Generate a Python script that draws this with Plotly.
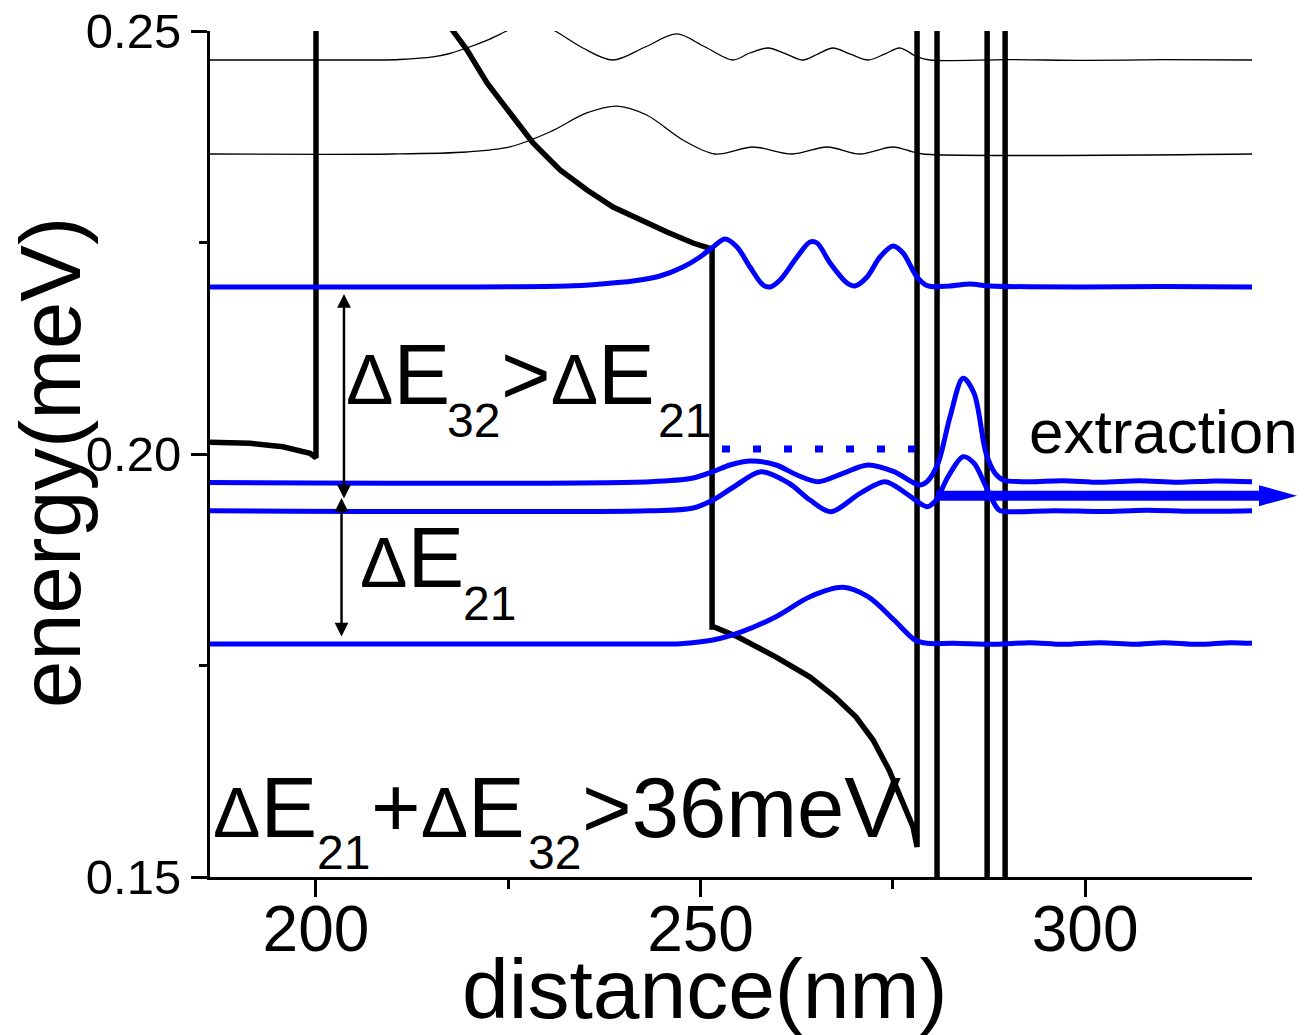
import plotly.graph_objects as go

# ---------------- axes ----------------
X_RANGE = [186.22, 321.7]          # distance (nm)
Y_RANGE = [0.15, 0.25]             # energy
X_TICKS = [200, 250, 300]
X_MINOR = [225, 275]
Y_TICKS = [0.15, 0.20, 0.25]
Y_TICK_TEXT = ["0.15", "0.20", "0.25"]
Y_MINOR = [0.175, 0.225]

# ---------------- conduction band edge ----------------
band_x = [186.22, 191.42, 195.71, 199.22, 200.0, 200.0, 216.0, 216.0, 217.82,
          219.64, 222.24, 224.84, 228.22, 231.73, 235.24, 238.62, 242.13,
          245.64, 249.02, 251.50, 251.50, 251.76, 254.88, 259.82, 264.24,
          267.49, 270.22, 272.43, 274.51, 276.20, 277.63, 278.15, 278.15,
          280.75, 280.75, 287.26, 287.26, 289.60, 289.60, 321.7]
band_e = [0.20138, 0.20126, 0.20086, 0.20008, 0.19955, 0.27, 0.27, 0.2523, 0.2500,
          0.24775, 0.24385, 0.24066, 0.23676, 0.23357, 0.23121, 0.22920, 0.22766,
          0.22624, 0.22494, 0.22423, 0.17955, 0.17955, 0.17837, 0.17600, 0.17364,
          0.17128, 0.16891, 0.16619, 0.16265, 0.15910, 0.15591, 0.15355, 0.27,
          0.27, 0.13, 0.13, 0.27, 0.27, 0.13, 0.13]

# ---------------- higher (continuum) states, thin ----------------
upper_a_x = [186.22, 208.3, 210.9, 215.2, 217.4, 219.6, 222.6, 224.8, 228.0,
             231.1, 234.7, 238.6, 242.8, 246.9, 250.6, 254.2, 256.4, 258.8,
             261.1, 263.3, 265.3, 267.2, 269.4, 271.8, 274.0, 275.9, 278.2,
             279.8, 290.0, 300.0, 310.0, 321.7]
upper_a_e = [0.24657, 0.24657, 0.24663, 0.24693, 0.24734, 0.24799, 0.24905, 0.25000,
             0.25130, 0.25000, 0.24799, 0.24657, 0.24811, 0.24965, 0.24811, 0.24657,
             0.24740, 0.24799, 0.24730, 0.24657, 0.24730, 0.24799, 0.24730, 0.24657,
             0.24730, 0.24799, 0.24693, 0.24657, 0.24662, 0.24652, 0.24661, 0.24657]

upper_b_x = [186.22, 210.0, 219.6, 225.2, 230.4, 235.2, 239.1, 243.0, 247.7,
             251.9, 256.8, 261.9, 266.5, 270.7, 275.0, 277.6, 278.9, 321.7]
upper_b_e = [0.23546, 0.23546, 0.23570, 0.23629, 0.23806, 0.24031, 0.24113, 0.24007,
             0.23712, 0.23546, 0.23629, 0.23546, 0.23629, 0.23546, 0.23629, 0.23570,
             0.23546, 0.23546]

# ---------------- laser states (blue) ----------------
level3_x = [186.22, 210.92, 232.64, 236.93, 241.22, 244.73, 247.72, 249.93, 251.63,
            253.18, 254.74, 256.43, 258.12, 259.04, 260.34, 262.55, 264.23, 265.15,
            266.84, 269.05, 270.08, 271.65, 273.34, 275.03, 276.33, 278.15, 279.58,
            282.44, 285.04, 287.64, 300.0, 310.0, 321.7]
level3_e = [0.21974, 0.21974, 0.21986, 0.22009, 0.22045, 0.22104, 0.22210, 0.22329,
            0.22447, 0.22541, 0.22447, 0.22210, 0.21998, 0.21974, 0.22057, 0.22329,
            0.22506, 0.22494, 0.22258, 0.22021, 0.21986, 0.22092, 0.22329, 0.22459,
            0.22376, 0.22092, 0.21986, 0.21986, 0.22009, 0.21986, 0.21974, 0.21980,
            0.21974]

level2a_x = [186.22, 243.43, 248.89, 251.62, 253.83, 256.56, 259.82, 262.55, 265.27,
             268.52, 271.77, 275.15, 278.41, 279.45, 280.88, 282.44, 284.13, 285.56,
             287.12, 288.29, 289.33, 292.58, 297.0, 302.0, 307.0, 312.0, 317.0, 321.7]
level2a_e = [0.19663, 0.19673, 0.19713, 0.19791, 0.19870, 0.19917, 0.19870, 0.19752,
             0.19673, 0.19772, 0.19870, 0.19791, 0.19634, 0.19673, 0.19890, 0.20441,
             0.20895, 0.20718, 0.20008, 0.19772, 0.19693, 0.19673, 0.19685, 0.19665,
             0.19683, 0.19665, 0.19682, 0.19673]

level2b_x = [186.22, 243.43, 248.89, 251.62, 254.35, 257.86, 261.50, 264.23, 266.96,
             270.73, 273.99, 276.72, 279.45, 280.62, 282.18, 284.13, 285.56, 287.12,
             288.81, 290.37, 296.0, 302.0, 308.0, 314.0, 321.7]
level2b_e = [0.19330, 0.19330, 0.19358, 0.19456, 0.19613, 0.19791, 0.19654, 0.19456,
             0.19318, 0.19535, 0.19673, 0.19535, 0.19377, 0.19456, 0.19731, 0.19968,
             0.19890, 0.19613, 0.19338, 0.19318, 0.19330, 0.19320, 0.19335, 0.19322,
             0.19330]

level1_x = [186.22, 243.43, 247.33, 251.62, 255.39, 259.81, 264.23, 268.52, 271.77,
            275.15, 277.89, 279.45, 282.90, 288.36, 292.78, 297.07, 302.01, 306.43,
            310.20, 314.62, 318.91, 321.7]
level1_e = [0.17754, 0.17754, 0.17758, 0.17801, 0.17900, 0.18077, 0.18313, 0.18424,
            0.18313, 0.18038, 0.17801, 0.17762, 0.17762, 0.17750, 0.17770, 0.17750,
            0.17770, 0.17750, 0.17770, 0.17750, 0.17770, 0.17762]

# level that the extractor state lines up with
dotted_x = [252.79, 277.9]
dotted_e = [0.20059, 0.20059]

# extraction arrow (nm / energy)
EXTRACT_X0 = 280.62
EXTRACT_BASE = 322.61
EXTRACT_TIP = 327.55
EXTRACT_E = 0.19507

# energy-spacing arrows
ARROW_32 = dict(x=203.64, e_top=0.21891, e_bot=0.19456)
ARROW_21 = dict(x=203.32, e_top=0.19480, e_bot=0.17825)

BLUE = "#0000ff"
FONT = "Liberation Sans, Arial, sans-serif"

W, H = 1308, 1035
M = dict(l=210, r=56, t=31, b=158)
PLOT_H = H - M["t"] - M["b"]
PX_PER_E = PLOT_H / (Y_RANGE[1] - Y_RANGE[0])

# the Greek capital delta is set a little smaller than the letters beside it
DELTA = '<span style="font-size:71px">Δ</span>'


def text_center(baseline_e, size):
    """energy of the vertical centre of a text line whose baseline sits at baseline_e"""
    return baseline_e + 0.3465 * size / PX_PER_E


def to_paper(x, e):
    return ((x - X_RANGE[0]) / (X_RANGE[1] - X_RANGE[0]),
            (e - Y_RANGE[0]) / (Y_RANGE[1] - Y_RANGE[0]))


fig = go.Figure()

fig.add_trace(go.Scatter(x=upper_a_x, y=upper_a_e, mode="lines",
                         line=dict(color="black", width=1.3, shape="spline", smoothing=0.9)))
fig.add_trace(go.Scatter(x=upper_b_x, y=upper_b_e, mode="lines",
                         line=dict(color="black", width=1.3, shape="spline", smoothing=0.9)))
fig.add_trace(go.Scatter(x=band_x, y=band_e, mode="lines",
                         line=dict(color="black", width=5.5)))

for xs, es in [(level3_x, level3_e), (level2a_x, level2a_e),
               (level2b_x, level2b_e), (level1_x, level1_e)]:
    fig.add_trace(go.Scatter(x=xs, y=es, mode="lines",
                             line=dict(color=BLUE, width=5, shape="spline", smoothing=0.9)))

fig.add_trace(go.Scatter(x=dotted_x, y=dotted_e, mode="lines",
                         line=dict(color=BLUE, width=7, dash="8px,23px")))

# extraction arrow: shaft + slender head
sx0, sy = to_paper(EXTRACT_X0, EXTRACT_E)
bx, _ = to_paper(EXTRACT_BASE, EXTRACT_E)
tx, _ = to_paper(EXTRACT_TIP, EXTRACT_E)
half_h = 10.5 / PLOT_H
shapes = [
    dict(type="line", xref="paper", yref="paper", x0=sx0, y0=sy, x1=bx + 0.002, y1=sy,
         line=dict(color=BLUE, width=10)),
    dict(type="path", xref="paper", yref="paper",
         path=f"M {bx},{sy + half_h} L {tx},{sy} L {bx},{sy - half_h} Z",
         fillcolor=BLUE, line=dict(width=0)),
]

annotations = []
for a in (ARROW_32, ARROW_21):
    annotations.append(dict(
        x=a["x"], y=a["e_top"], ax=a["x"], ay=a["e_bot"],
        xref="x", yref="y", axref="x", ayref="y", text="", showarrow=True,
        arrowhead=2, startarrowhead=2, arrowside="end+start",
        arrowwidth=2.5, arrowsize=1.1, startarrowsize=1.1,
        arrowcolor="black", standoff=0, startstandoff=0))

BIG, SMALL = 85, 48
pieces = [
    (DELTA + "E", 203.77, 0.20591, BIG), ("32", 216.9, 0.20201, SMALL),
    ("&gt;" + DELTA + "E", 223.93, 0.20591, BIG), ("21", 244.3, 0.20201, SMALL),
    (DELTA + "E", 205.59, 0.18428, BIG), ("21", 219.0, 0.18038, SMALL),
    (DELTA + "E", 186.48, 0.15473, BIG), ("21", 199.95, 0.15095, SMALL),
    ("+" + DELTA + "E", 207.02, 0.15473, BIG), ("32", 227.4, 0.15095, SMALL),
    ("&gt;36meV", 234.46, 0.15473, BIG),
    ("extraction", 292.58, 0.20012, 62),
]
for txt, x, base, size in pieces:
    annotations.append(dict(
        text=txt, x=x, y=text_center(base, size), xref="x", yref="y",
        xanchor="left", yanchor="middle", showarrow=False, borderpad=0,
        font=dict(family=FONT, size=size, color="black")))

# axis titles
annotations.append(dict(text="distance(nm)", x=0.4750, y=-0.1323, xref="paper", yref="paper",
                        xanchor="center", yanchor="middle", showarrow=False,
                        font=dict(family=FONT, size=84, color="black")))
annotations.append(dict(text="energy(meV)", x=-0.1531, y=0.4900, xref="paper", yref="paper",
                        xanchor="center", yanchor="middle", showarrow=False, textangle=-90,
                        font=dict(family=FONT, size=85, color="black")))

fig.update_layout(
    width=W, height=H, margin=M,
    paper_bgcolor="white", plot_bgcolor="white",
    showlegend=False, shapes=shapes, annotations=annotations,
    font=dict(family=FONT, color="black"),
    xaxis=dict(range=X_RANGE, showgrid=False, zeroline=False, showline=True,
               automargin=False,
               linecolor="black", linewidth=3, ticks="outside", ticklen=17,
               tickwidth=2.5, tickcolor="black", tickvals=X_TICKS,
               tickfont=dict(family=FONT, size=64, color="black"),
               ticklabelstandoff=-23,
               minor=dict(tickvals=X_MINOR, ticks="outside", ticklen=9,
                          tickwidth=2.5, tickcolor="black", showgrid=False)),
    yaxis=dict(range=Y_RANGE, showgrid=False, zeroline=False, showline=True,
               automargin=False,
               linecolor="black", linewidth=3, ticks="outside", ticklen=16,
               tickwidth=2.5, tickcolor="black", tickvals=Y_TICKS, ticktext=Y_TICK_TEXT,
               tickfont=dict(family=FONT, size=49, color="black"),
               minor=dict(tickvals=Y_MINOR, ticks="outside", ticklen=8,
                          tickwidth=2.5, tickcolor="black", showgrid=False)),
)

fig.write_html("out.html")
